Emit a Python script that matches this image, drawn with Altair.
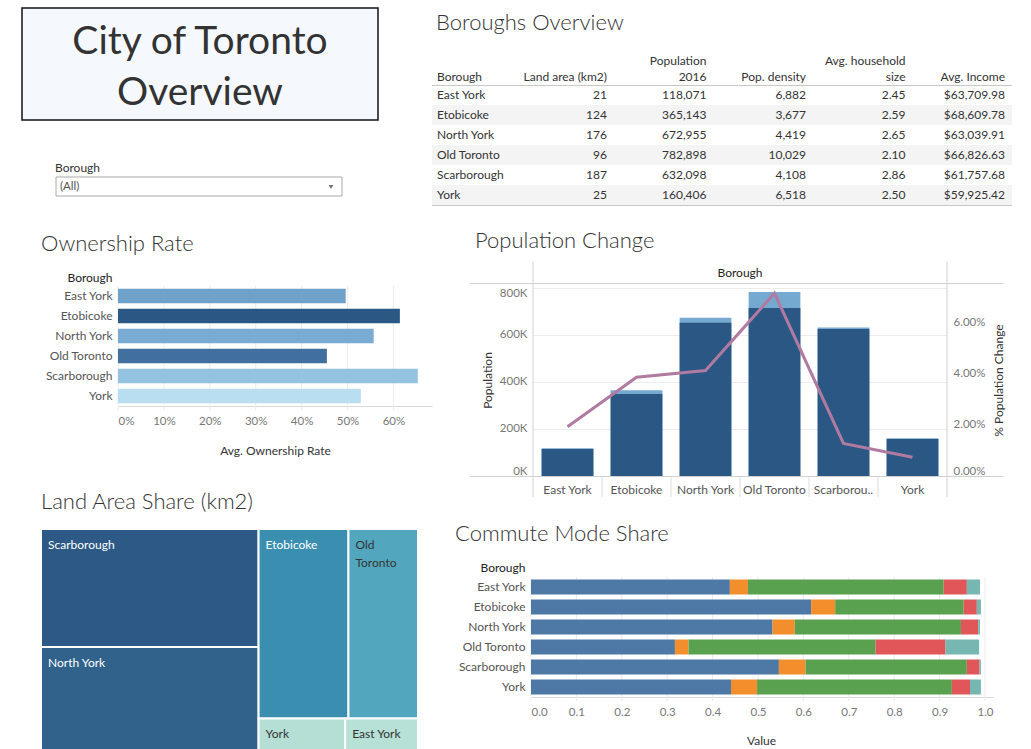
import altair as alt
import pandas as pd

# ---------------- data ----------------
boroughs = ["East York", "Etobicoke", "North York", "Old Toronto", "Scarborough", "York"]
land_area_km2 = [21, 124, 176, 96, 187, 25]
population_2016 = [118071, 365143, 672955, 782898, 632098, 160406]
pop_density = [6882, 3677, 4419, 10029, 4108, 6518]
avg_household_size = [2.45, 2.59, 2.65, 2.10, 2.86, 2.50]
avg_income = [63709.98, 68609.78, 63039.91, 66826.63, 61757.68, 59925.42]

ownership_rate = [0.496, 0.614, 0.557, 0.455, 0.653, 0.529]
ownership_ticks = [0, 0.1, 0.2, 0.3, 0.4, 0.5, 0.6]

population_2011 = [115000, 349000, 652000, 715000, 625500, 157400]
pct_population_change = [0.0192, 0.0385, 0.0411, 0.0712, 0.0127, 0.0073]
population_ticks = [0, 200000, 400000, 600000, 800000]
change_ticks = [0, 0.02, 0.04, 0.06]

commute_modes = ["Car (driver)", "Car (passenger)", "Public transit", "Walk", "Bicycle"]
share_car_driver = [0.438, 0.617, 0.532, 0.317, 0.546, 0.4405]
share_car_passenger = [0.040, 0.053, 0.049, 0.030, 0.059, 0.0575]
share_transit = [0.431, 0.283, 0.366, 0.412, 0.355, 0.429]
share_walk = [0.051, 0.029, 0.038, 0.154, 0.028, 0.040]
share_bicycle = [0.029, 0.009, 0.004, 0.074, 0.003, 0.024]
commute_ticks = [0, 0.1, 0.2, 0.3, 0.4, 0.5, 0.6, 0.7, 0.8, 0.9, 1.0]

table_column_keys = ["land", "pop", "dens", "hh", "inc"]
table_headers_top = ["", "Population", "", "Avg. household", ""]
table_headers_bottom = ["Land area (km2)", "2016", "Pop. density", "size", "Avg. Income"]

# treemap arrangement (groups of boroughs), sizes come from land_area_km2
treemap_left_column = ["Scarborough", "North York"]
treemap_right_rows = [["Etobicoke", "Old Toronto"], ["York", "East York"]]
treemap_wrapped = ["Old Toronto"]
treemap_light_text = ["Scarborough", "North York", "Etobicoke"]

# ---------------- styles ----------------
W, H = 1031, 749
FONT = "Lato"
DARK = "#333333"
TITLE_SIZE = 22
own_colors = ["#6fa2ca", "#2a5783", "#7aacd3", "#41709f", "#94c2e1", "#b9ddf1"]
tm_colors = ["#2c5985", "#30628c", "#3a8fb1", "#52a7be", "#b5dfd5", "#b7e1d6"]
tm_color_domain = ["Scarborough", "North York", "Etobicoke", "Old Toronto", "York", "East York"]
tab5 = ["#4e79a7", "#f28e2b", "#59a14f", "#e15759", "#76b7b2"]
LINE = "#d0d0d0"
GRID = "#ececec"

one = pd.DataFrame({"a": [0]})


def label(text, x, y, size=12, color=DARK, align="left", baseline="middle", weight="normal", **kw):
    return alt.Chart(pd.DataFrame({"t": [text]})).mark_text(
        align=align, baseline=baseline, fontSize=size, color=color, fontWeight=weight, **kw
    ).encode(text="t:N", x=alt.value(x), y=alt.value(y))


def hline(x1, x2, y, color=LINE, width=1):
    return alt.Chart(one).mark_rule(color=color, strokeWidth=width).encode(
        x=alt.value(x1), x2=alt.value(x2), y=alt.value(y))


# ---------------- title box & filter ----------------
title_box = alt.Chart(one).mark_rect(fill="#f5f9fd", stroke="#111111", strokeWidth=1.5).encode(
    x=alt.value(22), x2=alt.value(378), y=alt.value(8), y2=alt.value(120))
title1 = label("City of Toronto", 200, 54, size=39, align="center", baseline="alphabetic")
title2 = label("Overview", 200, 105, size=39, align="center", baseline="alphabetic")

filt_label = label("Borough", 55, 168, size=12)
filt_box = alt.Chart(one).mark_rect(fill="white", stroke="#a9a9a9", strokeWidth=1).encode(
    x=alt.value(56), x2=alt.value(342), y=alt.value(177), y2=alt.value(196))
filt_value = label("(All)", 60, 187, size=11.5, color="#555555")
filt_arrow = alt.Chart(one).mark_point(shape="triangle-down", filled=True, size=22, color="#333333").encode(
    x=alt.value(331), y=alt.value(187))

# ---------------- table ----------------
table_title = label("Boroughs Overview", 436, 23, size=TITLE_SIZE, weight=300)
cells = []
for i, b in enumerate(boroughs):
    vals = [f"{land_area_km2[i]:,}", f"{population_2016[i]:,}", f"{pop_density[i]:,}",
            f"{avg_household_size[i]:.2f}", f"${avg_income[i]:,.2f}"]
    for k, v in zip(table_column_keys, vals):
        cells.append({"Borough": b, "col": k, "text": v})
cell_df = pd.DataFrame(cells)
row_df = pd.DataFrame({"Borough": boroughs, "band": [i % 2 for i in range(len(boroughs))]})
head_df = pd.DataFrame({"col": table_column_keys, "top": table_headers_top, "bottom": table_headers_bottom})

tab_x = alt.Scale(type="point", domain=table_column_keys, range=[607, 1005], padding=0)
tab_y = alt.Scale(domain=boroughs, range=[85, 205], paddingInner=0, paddingOuter=0)

tab_bg = alt.Chart(row_df).transform_filter("datum.band == 1").mark_rect(color="#f4f4f4").encode(
    y=alt.Y("Borough:N", sort=boroughs, scale=tab_y, axis=None),
    x=alt.value(432), x2=alt.value(1012))
tab_names = alt.Chart(row_df).mark_text(align="left", baseline="middle", fontSize=12, color=DARK).encode(
    y=alt.Y("Borough:N", sort=boroughs, scale=tab_y, axis=None),
    x=alt.value(437), text="Borough:N")
tab_vals = alt.Chart(cell_df).mark_text(align="right", baseline="middle", fontSize=12, color=DARK).encode(
    y=alt.Y("Borough:N", sort=boroughs, scale=tab_y, axis=None),
    x=alt.X("col:N", sort=table_column_keys, scale=tab_x, axis=None),
    text="text:N")
tab_heads_top = alt.Chart(head_df).mark_text(align="right", baseline="middle", fontSize=12, color=DARK).encode(
    x=alt.X("col:N", sort=table_column_keys, scale=tab_x, axis=None),
    y=alt.value(61), text="top:N")
tab_heads_bottom = alt.Chart(head_df).mark_text(align="right", baseline="middle", fontSize=12, color=DARK).encode(
    x=alt.X("col:N", sort=table_column_keys, scale=tab_x, axis=None),
    y=alt.value(77), text="bottom:N")
tab_borough_head = label("Borough", 437, 77)
table = alt.layer(tab_bg, hline(432, 1012, 85.5, color="#c8c8c8"), hline(432, 1012, 205.5, color="#c8c8c8"),
                  tab_heads_top, tab_heads_bottom, tab_borough_head, tab_names, tab_vals)

# ---------------- ownership rate ----------------
own_title = label("Ownership Rate", 41, 244, size=TITLE_SIZE, weight=300)
own_df = pd.DataFrame({"Borough": boroughs, "Ownership": ownership_rate})
own_tick_df = pd.DataFrame({"v": ownership_ticks})


def own_x_scale():
    return alt.Scale(domain=[0, 0.684], range=[118, 432], nice=False, zero=False)


own_grid = alt.Chart(own_tick_df).mark_rule(color=GRID).encode(
    x=alt.X("v:Q", scale=own_x_scale(), axis=None), y=alt.value(286), y2=alt.value(410))
own_bars = alt.Chart(own_df).mark_bar().encode(
    x=alt.X("Ownership:Q", scale=own_x_scale(),
            axis=alt.Axis(orient="bottom", offset=406 - H, values=ownership_ticks,
                          format=".0%", title="Avg. Ownership Rate", titleX=275, titleY=44,
                          titleAlign="center", titleBaseline="middle", titleFontSize=12,
                          titleFontWeight="normal", titleColor=DARK, labelFontSize=11.5,
                          labelColor="#777777", labelPadding=9, labelFlush=1, grid=False,
                          domainColor="#d9d9d9", ticks=False)),
    y=alt.Y("Borough:N", sort=boroughs,
            scale=alt.Scale(range=[286, 406], paddingInner=0.27, paddingOuter=0.135),
            axis=alt.Axis(orient="left", offset=-118, title="Borough", titleAngle=0, titleAlign="right",
                          titleBaseline="middle", titleX=-6, titleY=277, titleFontSize=12,
                          titleFontWeight="normal", titleColor="#222222", labelFontSize=12,
                          labelColor="#555555", labelPadding=6, ticks=False, domain=False, grid=False)),
    color=alt.Color("Borough:N", scale=alt.Scale(domain=boroughs, range=own_colors), legend=None),
)

# ---------------- population change ----------------
pop_title = label("Population Change", 475, 241, size=TITLE_SIZE, weight=300)
pop_df = pd.DataFrame({"Borough": boroughs, "Pop2016": population_2016, "Pop2011": population_2011,
                       "Change": pct_population_change})


def pop_x_scale():
    return alt.Scale(domain=boroughs, range=[533, 947], paddingInner=0.25, paddingOuter=0.125)


def pop_cell_scale():
    return alt.Scale(domain=boroughs, range=[533, 947], paddingInner=0, paddingOuter=0)


pop_y = alt.Scale(domain=[0, 821000], range=[476, 283], nice=False, zero=False)
chg_y = alt.Scale(domain=[0, 0.0752], range=[476, 283], nice=False, zero=False)

pop_light = alt.Chart(pop_df).mark_bar(color="#76a9d0").encode(
    x=alt.X("Borough:N", sort=boroughs, scale=pop_x_scale(), axis=None),
    y=alt.Y("Pop2016:Q", scale=pop_y,
            axis=alt.Axis(orient="left", offset=-533, values=population_ticks,
                          labelExpr="format(datum.value / 1000, 'd') + 'K'", labelFlush=6,
                          labelPadding=6, labelColor="#777777", labelFontSize=11.5,
                          title="Population", titleAngle=270, titleX=-46, titleY=380,
                          titleAlign="center", titleBaseline="middle", titleFontWeight="normal",
                          titleFontSize=12, titleColor=DARK, grid=True, gridColor=GRID,
                          domain=False, ticks=False)),
)
pop_dark = alt.Chart(pop_df).mark_bar(color="#2b5784").encode(
    x=alt.X("Borough:N", sort=boroughs, scale=pop_x_scale(), axis=None),
    y=alt.Y("Pop2011:Q", scale=pop_y, axis=None),
)
pop_line = alt.Chart(pop_df).mark_line(color="#b07aa1", strokeWidth=3).encode(
    x=alt.X("Borough:N", sort=boroughs, scale=pop_x_scale(), axis=None),
    y=alt.Y("Change:Q", scale=chg_y,
            axis=alt.Axis(orient="right", offset=947 - W, values=change_ticks, format=".2%",
                          labelFlush=6, labelPadding=6, labelColor="#777777", labelFontSize=11.5,
                          title="% Population Change", titleAngle=270, titleX=51, titleY=380,
                          titleAlign="center", titleBaseline="middle", titleFontWeight="normal",
                          titleFontSize=12, titleColor=DARK, grid=False, domain=False, ticks=False)),
)
pop = alt.layer(pop_light, pop_dark, pop_line).resolve_scale(y="independent")

# category axis + cell separators (band boundaries of the same x layout)
pop_seps = alt.Chart(pop_df).transform_filter("datum.Borough != 'York'").mark_rule(color="#dddddd").encode(
    x=alt.X("Borough:N", sort=boroughs, scale=pop_cell_scale(), bandPosition=1,
            axis=alt.Axis(orient="bottom", offset=476 - H, title=None, labelFontSize=12,
                          labelColor="#555555", labelPadding=8, ticks=False, domain=False, grid=False,
                          labelAngle=0,
                          labelExpr="datum.label == 'Scarborough' ? 'Scarborou..' : datum.label")),
    y=alt.value(476), y2=alt.value(497))
pop_left_edge = alt.Chart(pop_df).transform_filter("datum.Borough == 'East York'").mark_rule(color=LINE).encode(
    x=alt.X("Borough:N", sort=boroughs, scale=pop_cell_scale(), axis=None, bandPosition=0),
    y=alt.value(262), y2=alt.value(497))
pop_right_edge = alt.Chart(pop_df).transform_filter("datum.Borough == 'York'").mark_rule(color=LINE).encode(
    x=alt.X("Borough:N", sort=boroughs, scale=pop_cell_scale(), axis=None, bandPosition=1),
    y=alt.value(262), y2=alt.value(497))
pop_head = label("Borough", 740, 273, align="center", color="#222222")
pop_frame_top = hline(470, 1003, 283.5)
pop_frame_bottom = hline(470, 1003, 476.5)

# ---------------- treemap ----------------
tm_title = label("Land Area Share (km2)", 41, 502, size=TITLE_SIZE, weight=300)
area = dict(zip(boroughs, land_area_km2))
total_area = sum(land_area_km2)
tm_cells = []
left_sum = sum(area[b] for b in treemap_left_column)
split_x = left_sum / total_area
yy = 0.0
for b in treemap_left_column:
    h = area[b] / left_sum
    tm_cells.append({"Borough": b, "x0": 0.0, "x1": split_x, "y0": yy, "y1": yy + h})
    yy += h
right_sum = total_area - left_sum
yy = 0.0
for row in treemap_right_rows:
    row_sum = sum(area[b] for b in row)
    h = row_sum / right_sum
    xx = split_x
    for b in row:
        w = area[b] / row_sum * (1 - split_x)
        tm_cells.append({"Borough": b, "x0": xx, "x1": xx + w, "y0": yy, "y1": yy + h})
        xx += w
    yy += h
tm_df = pd.DataFrame(tm_cells)
tm_df["light"] = tm_df["Borough"].isin(treemap_light_text)
tm_df["wrap"] = tm_df["Borough"].isin(treemap_wrapped)

tm_x = alt.Scale(domain=[0, 1], range=[41, 418], nice=False, zero=False)
tm_y = alt.Scale(domain=[0, 1], range=[529, 758], nice=False, zero=False)
tm_rect = alt.Chart(tm_df).mark_rect(stroke="white", strokeWidth=2).encode(
    x=alt.X("x0:Q", scale=tm_x, axis=None), x2="x1:Q",
    y=alt.Y("y0:Q", scale=tm_y, axis=None), y2="y1:Q",
    color=alt.Color("Borough:N", scale=alt.Scale(domain=tm_color_domain, range=tm_colors), legend=None))
tm_text_base = alt.Chart(tm_df)
tm_text_light = tm_text_base.transform_filter("datum.light").mark_text(
    align="left", baseline="top", dx=7, dy=11, fontSize=12, color="white").encode(
    x=alt.X("x0:Q", scale=tm_x, axis=None), y=alt.Y("y0:Q", scale=tm_y, axis=None), text="Borough:N")
tm_text_dark = tm_text_base.transform_filter("!datum.light && !datum.wrap").mark_text(
    align="left", baseline="top", dx=7, dy=11, fontSize=12, color=DARK).encode(
    x=alt.X("x0:Q", scale=tm_x, axis=None), y=alt.Y("y0:Q", scale=tm_y, axis=None), text="Borough:N")
tm_text_wrap = tm_text_base.transform_filter("!datum.light && datum.wrap").mark_text(
    align="left", baseline="top", dx=7, dy=11, fontSize=12, color=DARK, lineBreak=" ", lineHeight=18).encode(
    x=alt.X("x0:Q", scale=tm_x, axis=None), y=alt.Y("y0:Q", scale=tm_y, axis=None), text="Borough:N")
treemap = alt.layer(tm_rect, tm_text_light, tm_text_dark, tm_text_wrap)

# ---------------- commute mode share ----------------
com_title = label("Commute Mode Share", 455, 534, size=TITLE_SIZE, weight=300)
shares = [share_car_driver, share_car_passenger, share_transit, share_walk, share_bicycle]
com_rows = []
for i, b in enumerate(boroughs):
    for j, m in enumerate(commute_modes):
        com_rows.append({"Borough": b, "Mode": m, "Value": shares[j][i], "order": j})
com_df = pd.DataFrame(com_rows)
com_tick_df = pd.DataFrame({"v": commute_ticks})


def com_x_scale():
    return alt.Scale(domain=[0, 1.0176], range=[531, 993], nice=False, zero=False)


com_grid = alt.Chart(com_tick_df).mark_rule(color=GRID).encode(
    x=alt.X("v:Q", scale=com_x_scale(), axis=None), y=alt.value(577), y2=alt.value(701))
commute = alt.Chart(com_df).mark_bar().encode(
    x=alt.X("Value:Q", stack="zero", scale=com_x_scale(),
            axis=alt.Axis(orient="bottom", offset=697 - H, values=commute_ticks,
                          format=".1f", title="Value", titleX=761, titleY=43, titleAlign="center",
                          titleBaseline="middle", titleFontSize=12, titleFontWeight="normal",
                          titleColor=DARK, labelFontSize=11.5, labelColor="#777777", labelPadding=9,
                          labelFlush=1, grid=False, domainColor="#d9d9d9", ticks=False)),
    y=alt.Y("Borough:N", sort=boroughs,
            scale=alt.Scale(range=[577, 697], paddingInner=0.25, paddingOuter=0.125),
            axis=alt.Axis(orient="left", offset=-531, title="Borough", titleAngle=0, titleAlign="right",
                          titleBaseline="middle", titleX=-6, titleY=567, titleFontSize=12,
                          titleFontWeight="normal", titleColor="#222222", labelFontSize=12,
                          labelColor="#555555", labelPadding=6, ticks=False, domain=False, grid=False)),
    color=alt.Color("Mode:N", scale=alt.Scale(domain=commute_modes, range=tab5), legend=None),
    order=alt.Order("order:Q"),
)

# ---------------- dashboard ----------------
chart = alt.layer(
    title_box, title1, title2, filt_label, filt_box, filt_value, filt_arrow,
    table_title, table,
    own_title, own_grid, own_bars,
    pop_title, pop_frame_top, pop_frame_bottom, pop_head,
    pop_seps, pop_left_edge, pop_right_edge, pop,
    tm_title, treemap,
    com_title, com_grid, commute,
).resolve_scale(
    x="independent", y="independent", color="independent"
).properties(
    width=W, height=H, padding=0, autosize=alt.AutoSizeParams(type="none")
).configure(font=FONT).configure_view(strokeWidth=0)

chart.save("out.html", embed_options={"renderer": "svg", "actions": False})
